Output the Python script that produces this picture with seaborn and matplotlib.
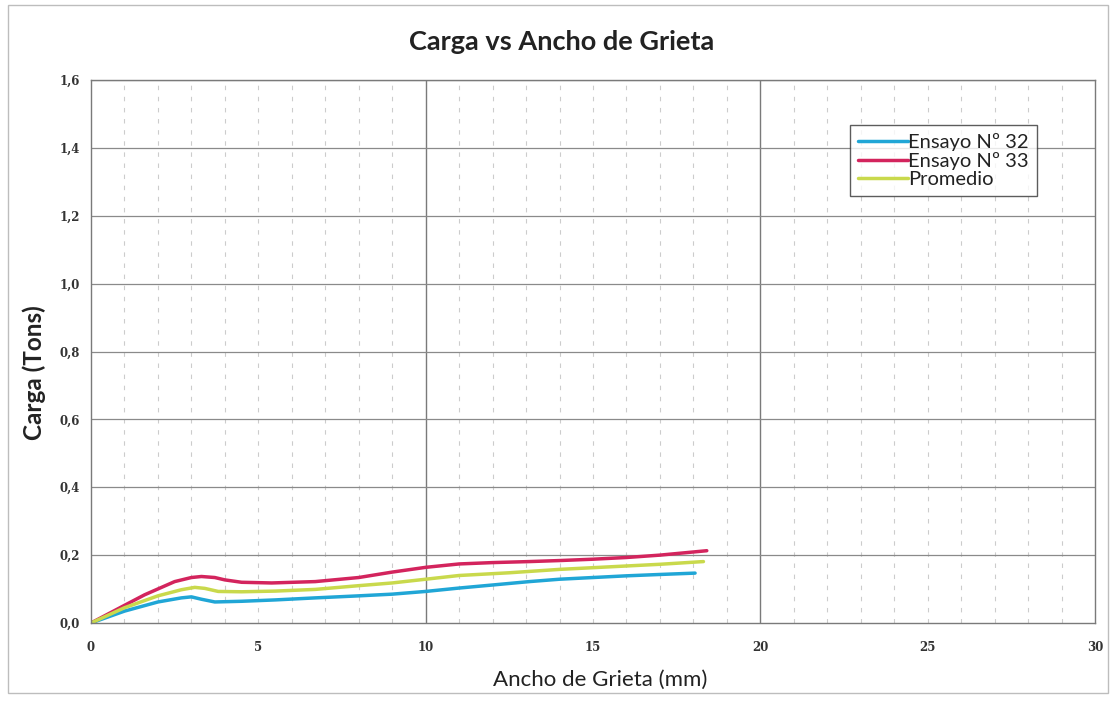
import numpy as np
import pandas as pd
import seaborn as sns
import matplotlib
matplotlib.use("Agg")
import matplotlib.pyplot as plt
from matplotlib.patches import Rectangle
from matplotlib.ticker import MultipleLocator, FuncFormatter

# --- data ---
x_32 = [0.0, 1.0, 2.0, 2.7, 3.0, 3.3, 3.7, 4.5, 5.5, 6.7, 8.0, 9.0, 10.0, 11.0, 12.0, 13.1, 14.0, 15.0, 16.0, 17.0, 18.05]
y_32 = [0.0, 0.035, 0.062, 0.074, 0.077, 0.070, 0.062, 0.064, 0.068, 0.074, 0.080, 0.085, 0.093, 0.103, 0.112, 0.122, 0.129, 0.134, 0.139, 0.143, 0.147]

x_33 = [0.0, 1.0, 1.6, 2.5, 3.0, 3.3, 3.7, 4.0, 4.5, 5.4, 6.7, 8.0, 9.0, 10.0, 11.0, 12.0, 13.1, 14.0, 15.0, 16.0, 17.0, 18.4]
y_33 = [0.0, 0.052, 0.083, 0.122, 0.134, 0.137, 0.134, 0.127, 0.120, 0.118, 0.122, 0.134, 0.150, 0.164, 0.174, 0.178, 0.181, 0.184, 0.188, 0.193, 0.200, 0.213]

x_prom = [0.0, 1.0, 2.0, 2.7, 3.1, 3.4, 3.8, 4.5, 5.5, 6.7, 8.0, 9.0, 10.0, 11.0, 12.5, 14.0, 15.0, 16.0, 17.0, 18.3]
y_prom = [0.0, 0.045, 0.080, 0.098, 0.105, 0.102, 0.093, 0.092, 0.094, 0.099, 0.110, 0.118, 0.129, 0.140, 0.148, 0.158, 0.163, 0.168, 0.173, 0.181]

series_names = ["Ensayo Nº 32", "Ensayo Nº 33", "Promedio"]
colors = ["#20a6d6", "#d3245d", "#c9d94c"]

x_ticks = [0, 5, 10, 15, 20, 25, 30]
y_ticks = [0.0, 0.2, 0.4, 0.6, 0.8, 1.0, 1.2, 1.4, 1.6]

df = pd.concat([
    pd.DataFrame({"x": x_32, "y": y_32, "serie": series_names[0]}),
    pd.DataFrame({"x": x_33, "y": y_33, "serie": series_names[1]}),
    pd.DataFrame({"x": x_prom, "y": y_prom, "serie": series_names[2]}),
], ignore_index=True)

sns.set_theme(style="white")
plt.rcParams["font.family"] = ["Lato", "DejaVu Sans"]

fig = plt.figure(figsize=(11.11, 7.05), dpi=100)
ax = fig.add_axes([91/1111, 1-623/705, (1095-91)/1111, (623-80)/705])

# outer chart border
fig.patches.append(Rectangle((8/1111, 12/705), 1100/1111, 688/705, transform=fig.transFigure,
                             fill=False, edgecolor="#bdbdbd", linewidth=1.0))

sns.lineplot(data=df, x="x", y="y", hue="serie", palette=colors, hue_order=series_names,
             sort=False, estimator=None, linewidth=2.5, ax=ax)

ax.set_xlim(0, 30)
ax.set_ylim(0, 1.6)
ax.set_xticks(x_ticks)
ax.set_yticks(y_ticks)
ax.xaxis.set_minor_locator(MultipleLocator(1))
ax.yaxis.set_major_formatter(FuncFormatter(lambda v, p: f"{v:.1f}".replace(".", ",")))

# gridlines
ax.grid(False)
for xv in np.arange(1, 30, 1):
    if xv in (10, 20):
        ax.axvline(xv, color="#7a7a7a", linewidth=1.0, zorder=0)
    else:
        ax.axvline(xv, color="#cccccc", linewidth=0.8, linestyle=(0, (4, 6)), zorder=0)
for yv in y_ticks[1:]:
    ax.axhline(yv, color="#8a8a8a", linewidth=0.9, zorder=0)

for s in ax.spines.values():
    s.set_color("#7a7a7a")
    s.set_linewidth(1.0)

ax.tick_params(axis="y", which="both", length=0, pad=8)
ax.tick_params(axis="x", which="both", length=0, pad=13)
for lab in ax.get_xticklabels() + ax.get_yticklabels():
    lab.set_fontfamily("DejaVu Serif")
    lab.set_fontweight("bold")
    lab.set_fontsize(8.5)
    lab.set_color("#333333")

ax.set_xlabel("Ancho de Grieta (mm)", fontsize=16, color="#222222")
ax.set_ylabel("Carga (Tons)", fontsize=17.5, fontweight="bold", color="#222222")
ax.xaxis.set_label_coords(0.507, -0.086)
ax.yaxis.set_label_coords(-0.045, 0.462)
fig.text(562/1111, 1-42/705, "Carga vs Ancho de Grieta", ha="center", va="center",
         fontsize=19.5, fontweight="bold", color="#222222")

leg = ax.legend(loc="upper right", bbox_to_anchor=(0.942, 0.917), frameon=True, fancybox=False,
                fontsize=14.5, handlelength=2.5, handletextpad=0.0, borderpad=0.4,
                labelspacing=0.05, borderaxespad=0.0, title=None)
leg.get_frame().set_edgecolor("#333333")
leg.get_frame().set_linewidth(1.0)
for t in leg.get_texts():
    t.set_color("#222222")

fig.savefig("out.png", dpi=100, facecolor="white")
